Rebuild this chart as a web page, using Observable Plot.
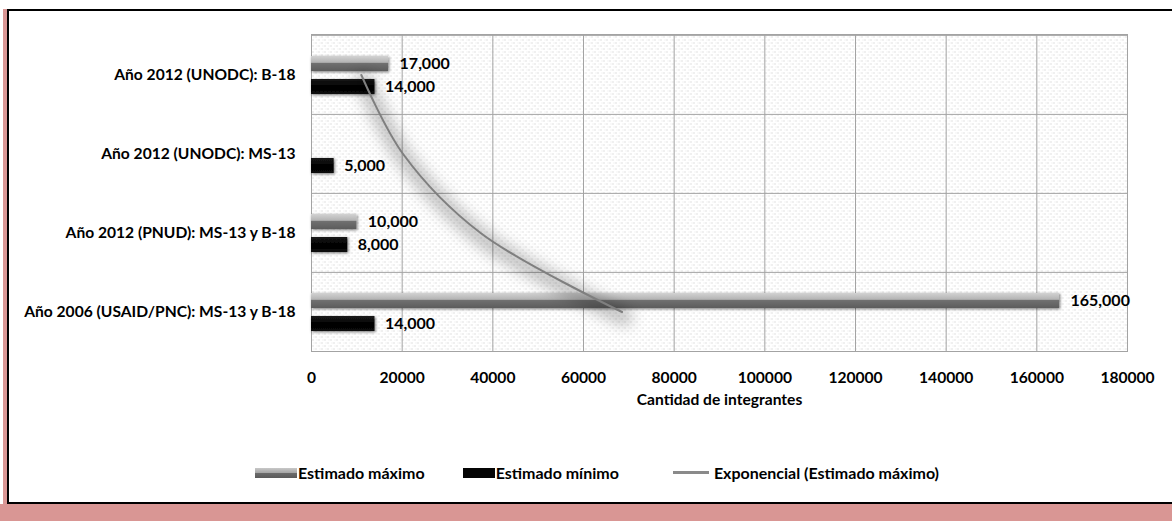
<!DOCTYPE html>
<html>
<head>
<meta charset="utf-8">
<script src="https://cdn.jsdelivr.net/npm/d3@7"></script>
<script src="https://cdn.jsdelivr.net/npm/@observablehq/plot@0.6"></script>
<style>
  body { margin: 0; background: #fff; }
  #wrap { position: relative; width: 1172px; height: 521px; overflow: hidden; font-family: Lato, "Open Sans", sans-serif; }
  .pink { position: absolute; background: #d99694; }
  #box { position: absolute; left: 7px; top: 9px; width: 1165px; height: 495px; box-sizing: border-box;
         border-top: 2px solid #000; border-left: 2px solid #000; border-bottom: 2px solid #000; background: #fff; }
  #chart { position: absolute; left: 8px; top: 11px; }
  #legend { position: absolute; left: 255px; top: 463px; display: flex; align-items: center; font-weight: bold; font-size: 16px; color: #000; white-space: nowrap; }
  .item { display: flex; align-items: center; }
  .sw-max { width: 42px; height: 10px; background: linear-gradient(#c8c8c8 0%, #a8a8a8 45%, #6a6a6a 55%, #5a5a5a 100%); margin-right: 1px; }
  .sw-min { width: 32px; height: 10px; background: #050505; margin-right: 1px; }
  .sw-line { width: 36px; height: 3px; background: #8a8a8a; margin-right: 5px; }
</style>
</head>
<body>
<div id="wrap">
  <div class="pink" style="left:3px;top:9px;width:5px;height:512px"></div>
  <div class="pink" style="left:0;top:504px;width:1172px;height:17px"></div>
  <div id="box"></div>
  <div id="chart"></div>
  <div id="legend"></div>
</div>
<script>
// ---- data ----
const categories = [
  "Año 2012 (UNODC): B-18",
  "Año 2012 (UNODC): MS-13",
  "Año 2012 (PNUD): MS-13 y B-18",
  "Año 2006 (USAID/PNC): MS-13 y B-18"
];
const maxValues = [17000, null, 10000, 165000];
const minValues = [14000, 5000, 8000, 14000];
// exponential trendline of "Estimado máximo", read at each category centre
const trendValues = [11000, 20200, 37300, 68500];
const xTicks = [0, 20000, 40000, 60000, 80000, 100000, 120000, 140000, 160000, 180000];
const seriesNames = ["Estimado máximo", "Estimado mínimo", "Exponencial (Estimado máximo)"];
const xLabel = "Cantidad de integrantes";

// ---- tables ----
const maxData = categories.map((c, i) => ({cat: c, value: maxValues[i]})).filter(d => d.value != null);
const minData = categories.map((c, i) => ({cat: c, value: minValues[i]}));
const trendData = categories.map((c, i) => ({cat: c, value: trendValues[i]}));
const fmt = d3.format(",");

const W = 1164, H = 420, mT = 23, mB = 80, mL = 303, mR = 45;
const band = (H - mT - mB) / categories.length;

const svg = Plot.plot({
  width: W, height: H,
  marginTop: mT, marginBottom: mB, marginLeft: mL, marginRight: mR,
  style: {fontFamily: "Lato, 'Open Sans', sans-serif", fontSize: "15.6px", fontWeight: "bold", color: "#000", background: "transparent"},
  x: {domain: [0, 180000], ticks: xTicks, tickFormat: d => String(d), tickSize: 0, tickPadding: 20, label: null},
  y: {domain: categories, padding: 0, tickSize: 0, tickPadding: 16, label: null},
  marks: [
    Plot.frame({fill: "url(#dots)", stroke: "none"}),
    Plot.ruleX(xTicks, {stroke: "#a3a3a3", strokeWidth: 1}),
    Plot.ruleY(categories, {y: d => d, dy: -band / 2, stroke: "#a3a3a3", strokeWidth: 1}),
    Plot.frame({stroke: "#a3a3a3", strokeWidth: 1}),
    Plot.barX(maxData, {x: "value", y: "cat", fill: "url(#gMax)", insetTop: 21, insetBottom: 43}),
    Plot.barX(minData, {x: "value", y: "cat", fill: "url(#gMin)", insetTop: 44, insetBottom: 20}),
    Plot.line(trendData, {x: "value", y: "cat", curve: "catmull-rom", stroke: "#000", strokeOpacity: 0.22, strokeWidth: 18, dx: 2, dy: 5}),
    Plot.line(trendData, {x: "value", y: "cat", curve: "catmull-rom", stroke: "#7f7f7f", strokeWidth: 2}),
    Plot.text(maxData, {x: "value", y: "cat", text: d => fmt(d.value), dx: 11, dy: -11, textAnchor: "start", fontSize: 16, fontWeight: "bold", fill: "#000"}),
    Plot.text(minData, {x: "value", y: "cat", text: d => fmt(d.value), dx: 10, dy: 12, textAnchor: "start", fontSize: 16, fontWeight: "bold", fill: "#000"}),
    Plot.text([xLabel], {frameAnchor: "bottom", dy: 53, fontSize: 15.6, fontWeight: "bold", fill: "#000"})
  ]
});

// defs: pattern, gradients, filters
const s = d3.select(svg);
const defs = s.insert("defs", ":first-child");
const pat = defs.append("pattern").attr("id", "dots").attr("patternUnits", "userSpaceOnUse").attr("width", 6).attr("height", 6);
pat.append("rect").attr("width", 6).attr("height", 6).attr("fill", "#ffffff");
pat.append("rect").attr("x", 1).attr("y", 1).attr("width", 1).attr("height", 1).attr("fill", "#c4c4c4");
pat.append("rect").attr("x", 4).attr("y", 4).attr("width", 1).attr("height", 1).attr("fill", "#c4c4c4");
pat.append("rect").attr("x", 2).attr("y", 4).attr("width", 1).attr("height", 1).attr("fill", "#e6e6e6");
pat.append("rect").attr("x", 5).attr("y", 1).attr("width", 1).attr("height", 1).attr("fill", "#e6e6e6");
const gMax = defs.append("linearGradient").attr("id", "gMax").attr("x1", 0).attr("y1", 0).attr("x2", 0).attr("y2", 1);
[[0, "#d2d2d2"], [0.42, "#b4b4b4"], [0.5, "#707070"], [1, "#5c5c5c"]].forEach(([o, c]) => gMax.append("stop").attr("offset", o).attr("stop-color", c));
const gMin = defs.append("linearGradient").attr("id", "gMin").attr("x1", 0).attr("y1", 0).attr("x2", 0).attr("y2", 1);
[[0, "#1a1a1a"], [0.5, "#000"], [1, "#0a0a0a"]].forEach(([o, c]) => gMin.append("stop").attr("offset", o).attr("stop-color", c));
const blur = defs.append("filter").attr("id", "blur").attr("x", "-20%").attr("y", "-20%").attr("width", "140%").attr("height", "140%");
blur.append("feGaussianBlur").attr("stdDeviation", 7);
const sh = defs.append("filter").attr("id", "shadow").attr("x", "-20%").attr("y", "-50%").attr("width", "140%").attr("height", "200%");
sh.append("feDropShadow").attr("dx", 1).attr("dy", 1).attr("stdDeviation", 1.5).attr("flood-color", "#000").attr("flood-opacity", 0.55);

const lines = s.selectAll("g[aria-label='line']").nodes();
if (lines[0]) d3.select(lines[0]).attr("filter", "url(#blur)");
const bars = s.selectAll("g[aria-label='bar']").nodes();
bars.forEach(b => d3.select(b).attr("filter", "url(#shadow)"));

document.getElementById("chart").appendChild(svg);

// legend
const lg = d3.select("#legend");
const it1 = lg.append("div").attr("class", "item").style("margin-right", "38px");
it1.append("span").attr("class", "sw-max"); it1.append("span").text(seriesNames[0]);
const it2 = lg.append("div").attr("class", "item").style("margin-right", "54px");
it2.append("span").attr("class", "sw-min"); it2.append("span").text(seriesNames[1]);
const it3 = lg.append("div").attr("class", "item");
it3.append("span").attr("class", "sw-line"); it3.append("span").text(seriesNames[2]);
</script>
</body>
</html>
